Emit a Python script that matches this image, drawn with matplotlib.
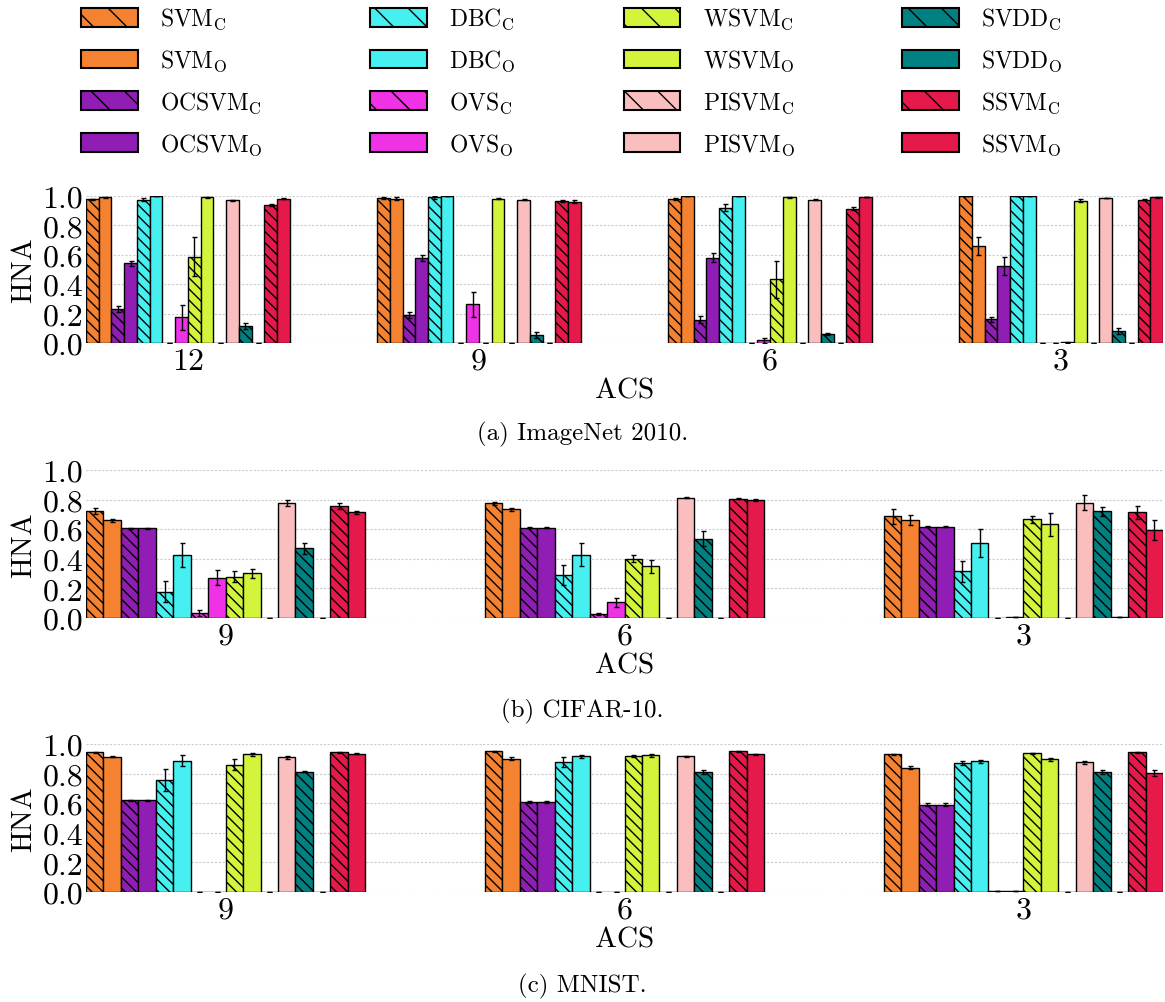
import numpy as np
import matplotlib
matplotlib.use('Agg')
import matplotlib.pyplot as plt
from matplotlib.patches import Patch

plt.rcParams['font.family'] = 'cmr10'
plt.rcParams['mathtext.fontset'] = 'cm'
plt.rcParams['axes.formatter.use_mathtext'] = True
plt.rcParams['hatch.linewidth'] = 1.0

# series order: <method>_C then <method>_O
methods = ['SVM', 'OCSVM', 'DBC', 'OVS', 'WSVM', 'PISVM', 'SVDD', 'SSVM']
colors = ['#f58231', '#911eb4', '#46f0f0', '#f032e6',
          '#d2f53c', '#fabebe', '#008080', '#e6194b']

# (a) ImageNet 2010
imagenet_acs = ['12', '9', '6', '3']
imagenet_mean = [
    [0.977, 0.986, 0.977, 1.000],  # SVM_C
    [0.991, 0.982, 1.000, 0.661],  # SVM_O
    [0.231, 0.190, 0.158, 0.161],  # OCSVM_C
    [0.541, 0.581, 0.579, 0.525],  # OCSVM_O
    [0.975, 0.991, 0.921, 1.000],  # DBC_C
    [1.000, 1.000, 1.000, 1.000],  # DBC_O
    [0.000, 0.000, 0.000, 0.000],  # OVS_C
    [0.174, 0.262, 0.018, 0.000],  # OVS_O
    [0.588, 0.000, 0.434, 0.005],  # WSVM_C
    [0.991, 0.982, 0.991, 0.968],  # WSVM_O
    [0.000, 0.000, 0.000, 0.000],  # PISVM_C
    [0.971, 0.974, 0.975, 0.986],  # PISVM_O
    [0.113, 0.057, 0.061, 0.079],  # SVDD_C
    [0.000, 0.000, 0.000, 0.000],  # SVDD_O
    [0.937, 0.964, 0.914, 0.975],  # SSVM_C
    [0.982, 0.962, 0.993, 0.991],  # SSVM_O
]
imagenet_err = [
    [0.005, 0.008, 0.006, 0.000],
    [0.003, 0.008, 0.000, 0.060],
    [0.020, 0.020, 0.025, 0.018],
    [0.015, 0.020, 0.030, 0.060],
    [0.012, 0.010, 0.022, 0.000],
    [0.000, 0.000, 0.000, 0.000],
    [0.000, 0.000, 0.000, 0.000],
    [0.085, 0.085, 0.015, 0.000],
    [0.130, 0.000, 0.125, 0.003],
    [0.003, 0.004, 0.003, 0.010],
    [0.000, 0.000, 0.000, 0.000],
    [0.004, 0.004, 0.003, 0.002],
    [0.020, 0.020, 0.008, 0.020],
    [0.000, 0.000, 0.000, 0.000],
    [0.006, 0.008, 0.012, 0.003],
    [0.004, 0.008, 0.002, 0.002],
]

# (b) CIFAR-10
cifar_acs = ['9', '6', '3']
cifar_mean = [
    [0.720, 0.774, 0.688],
    [0.659, 0.734, 0.661],
    [0.605, 0.610, 0.616],
    [0.605, 0.610, 0.616],
    [0.178, 0.293, 0.316],
    [0.424, 0.429, 0.508],
    [0.036, 0.027, 0.000],
    [0.273, 0.106, 0.005],
    [0.280, 0.402, 0.666],
    [0.302, 0.348, 0.632],
    [0.000, 0.000, 0.000],
    [0.774, 0.813, 0.779],
    [0.472, 0.537, 0.722],
    [0.000, 0.000, 0.005],
    [0.754, 0.806, 0.713],
    [0.716, 0.797, 0.594],
]
cifar_err = [
    [0.020, 0.010, 0.050],
    [0.012, 0.012, 0.035],
    [0.003, 0.003, 0.003],
    [0.003, 0.003, 0.003],
    [0.072, 0.068, 0.072],
    [0.080, 0.079, 0.095],
    [0.020, 0.010, 0.000],
    [0.048, 0.030, 0.000],
    [0.040, 0.025, 0.025],
    [0.030, 0.047, 0.075],
    [0.000, 0.000, 0.000],
    [0.020, 0.005, 0.050],
    [0.037, 0.050, 0.030],
    [0.000, 0.000, 0.000],
    [0.020, 0.005, 0.047],
    [0.010, 0.007, 0.066],
]

# (c) MNIST
mnist_acs = ['9', '6', '3']
mnist_mean = [
    [0.944, 0.951, 0.930],
    [0.913, 0.900, 0.841],
    [0.619, 0.608, 0.590],
    [0.619, 0.608, 0.590],
    [0.758, 0.877, 0.870],
    [0.888, 0.917, 0.883],
    [0.000, 0.000, 0.005],
    [0.000, 0.000, 0.005],
    [0.861, 0.919, 0.937],
    [0.930, 0.924, 0.897],
    [0.000, 0.000, 0.000],
    [0.910, 0.917, 0.877],
    [0.814, 0.810, 0.810],
    [0.000, 0.000, 0.000],
    [0.944, 0.951, 0.944],
    [0.933, 0.930, 0.805],
]
mnist_err = [
    [0.005, 0.003, 0.005],
    [0.003, 0.010, 0.012],
    [0.004, 0.004, 0.008],
    [0.004, 0.004, 0.008],
    [0.073, 0.034, 0.015],
    [0.038, 0.010, 0.008],
    [0.000, 0.000, 0.000],
    [0.000, 0.000, 0.000],
    [0.040, 0.010, 0.003],
    [0.008, 0.010, 0.010],
    [0.000, 0.000, 0.000],
    [0.010, 0.005, 0.010],
    [0.005, 0.012, 0.012],
    [0.000, 0.000, 0.000],
    [0.003, 0.003, 0.003],
    [0.003, 0.005, 0.020],
]

panels = [
    (imagenet_acs, imagenet_mean, imagenet_err, '(a) ImageNet 2010.'),
    (cifar_acs, cifar_mean, cifar_err, '(b) CIFAR-10.'),
    (mnist_acs, mnist_mean, mnist_err, '(c) MNIST.'),
]

W, H = 1165, 1003
fig = plt.figure(figsize=(W / 100, H / 100), dpi=100)

# axes boxes in pixels: (top, bottom)
ax_px = [(197, 344), (471, 619), (745, 893)]
caption_y = [434, 711, 986]
left_px, right_px = 86, 1163

nbar = 2 * len(methods)
width = 0.7 / nbar

for p, (acs, mean, err, caption) in enumerate(panels):
    top, bot = ax_px[p]
    ax = fig.add_axes([left_px / W, 1 - bot / H, (right_px - left_px) / W, (bot - top) / H])
    x = np.arange(len(acs))
    for j in range(nbar):
        m = j // 2
        hatched = (j % 2 == 0)
        ax.bar(x + (j - (nbar - 1) / 2) * width, mean[j], width,
               yerr=err[j], color=colors[m], edgecolor='black', linewidth=1.0,
               hatch='\\\\\\' if hatched else None,
               error_kw=dict(ecolor='black', elinewidth=1.0, capsize=1.8, capthick=1.0),
               zorder=3)
    ax.set_xlim(-0.35, len(acs) - 1 + 0.35)
    ax.set_ylim(0, 1.0)
    ax.set_yticks(np.arange(0, 1.01, 0.2))
    ax.set_yticklabels(['%.1f' % v for v in np.arange(0, 1.01, 0.2)])
    ax.set_xticks(x)
    ax.set_xticklabels(acs)
    ax.tick_params(axis='both', length=0, labelsize=23)
    ax.tick_params(axis='x', pad=3)
    ax.tick_params(axis='y', pad=2)
    ax.yaxis.grid(True, linestyle=(0, (2, 1.5)), color='#cccccc', linewidth=0.8, zorder=0)
    ax.set_axisbelow(True)
    for s in ax.spines.values():
        s.set_visible(False)
    ax.set_ylabel('HNA', fontsize=21, labelpad=4)
    ax.set_xlabel('ACS', fontsize=21, labelpad=2)
    fig.text(0.5, 1 - caption_y[p] / H, caption, ha='center', va='center', fontsize=18)

# legend proxies, sparser hatch as in the reference key
handles = []
for j in range(nbar):
    m = j // 2
    suffix = 'C' if j % 2 == 0 else 'O'
    handles.append(Patch(facecolor=colors[m], edgecolor='black', linewidth=1.5,
                         hatch='\\' if j % 2 == 0 else None,
                         label=methods[m] + r'$_{\mathrm{' + suffix + '}}$'))

fig.legend(handles=handles, loc='upper left', bbox_to_anchor=(81 / W, 1 - 7 / H),
           ncol=4, frameon=False, fontsize=17, borderpad=0, borderaxespad=0,
           handlelength=2.4, handleheight=0.85, handletextpad=0.95,
           columnspacing=4.55, labelspacing=0.7)

fig.savefig('out.png', dpi=100)
